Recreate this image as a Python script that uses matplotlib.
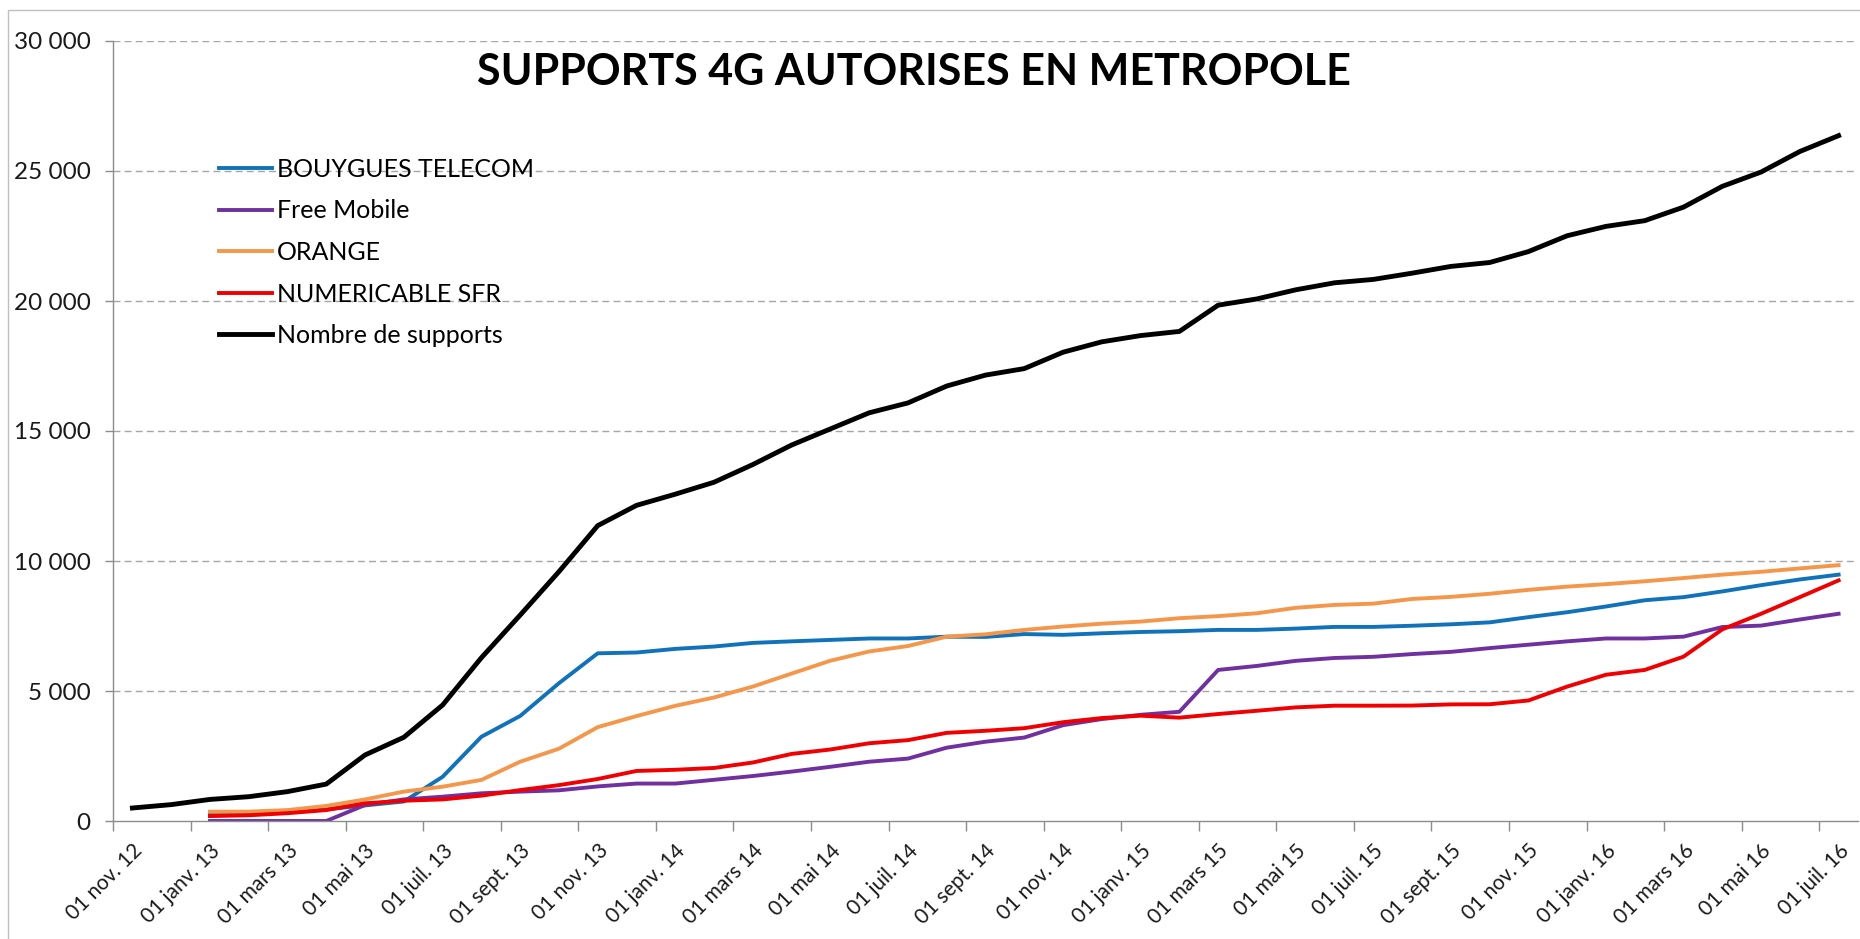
"""
Supports 4G autorises en metropole - monthly count per operator.
Output: out.png
"""

import matplotlib.pyplot as plt
import numpy as np
from matplotlib.patches import Rectangle
from matplotlib.ticker import FixedLocator, FuncFormatter

plt.rcParams["font.family"] = ["Lato", "DejaVu Sans"]

TITLE = "SUPPORTS 4G AUTORISES EN METROPOLE"

# one label every two months, from 01 nov. 12 to 01 juil. 16 (45 months)
TICK_LABELS = [
    "01 nov. 12", "01 janv. 13", "01 mars 13", "01 mai 13", "01 juil. 13",
    "01 sept. 13", "01 nov. 13", "01 janv. 14", "01 mars 14", "01 mai 14",
    "01 juil. 14", "01 sept. 14", "01 nov. 14", "01 janv. 15", "01 mars 15",
    "01 mai 15", "01 juil. 15", "01 sept. 15", "01 nov. 15", "01 janv. 16",
    "01 mars 16", "01 mai 16", "01 juil. 16",
]
N_MONTHS = 45

NAN = np.nan

BOUYGUES = [NAN, NAN, 250, 280, 350, 450, 600, 750, 1700, 3240, 4040, 5300,
            6450, 6480, 6620, 6710, 6850, 6910, 6965, 7020, 7020, 7090, 7080,
            7190, 7160, 7220, 7270, 7300, 7350, 7350, 7400, 7465, 7465, 7510,
            7565, 7640, 7840, 8030, 8250, 8490, 8610, 8830, 9070, 9290, 9475]

FREE = [NAN, NAN, 0, 0, 0, 0, 615, 830, 935, 1065, 1130, 1180,
        1330, 1440, 1440, 1585, 1730, 1900, 2085, 2280, 2400, 2820, 3050,
        3210, 3685, 3920, 4085, 4200, 5810, 5965, 6160, 6270, 6315, 6420,
        6505, 6650, 6780, 6910, 7020, 7020, 7090, 7460, 7515, 7750, 7970]

ORANGE = [NAN, NAN, 360, 360, 420, 580, 830, 1130, 1320, 1580, 2280, 2780,
          3610, 4035, 4430, 4750, 5170, 5670, 6165, 6520, 6730, 7090, 7180,
          7350, 7480, 7590, 7670, 7800, 7880, 7990, 8200, 8310, 8360, 8540,
          8620, 8740, 8890, 9015, 9110, 9220, 9345, 9475, 9585, 9715, 9840]

SFR = [NAN, NAN, 190, 220, 300, 420, 680, 780, 830, 975, 1190, 1380,
       1615, 1925, 1970, 2040, 2250, 2580, 2750, 2990, 3110, 3390, 3470,
       3570, 3800, 3960, 4050, 3975, 4115, 4240, 4370, 4435, 4435, 4440,
       4485, 4490, 4635, 5170, 5625, 5810, 6320, 7370, 7970, 8610, 9255]

TOTAL = [500, 630, 830, 935, 1130, 1420, 2540, 3220, 4460, 6280, 7920, 9590,
         11360, 12140, 12570, 13030, 13710, 14460, 15080, 15700, 16080, 16730,
         17150, 17400, 18030, 18430, 18670, 18830, 19840, 20080, 20430, 20700,
         20830, 21070, 21330, 21480, 21900, 22510, 22870, 23090, 23610, 24410,
         24960, 25750, 26360]

SERIES = [
    ("BOUYGUES TELECOM", BOUYGUES, "#0F72BA", 2.8),
    ("Free Mobile", FREE, "#7030A0", 2.8),
    ("ORANGE", ORANGE, "#F4974B", 2.8),
    ("NUMERICABLE SFR", SFR, "#F00000", 2.8),
    ("Nombre de supports", TOTAL, "#000000", 3.5),
]

W, H, DPI = 1860, 939, 100


def fmt_thousands(v, _pos):
    return f"{int(v):,}".replace(",", " ")


def main():
    fig = plt.figure(figsize=(W / DPI, H / DPI), dpi=DPI)
    ax = fig.add_axes([113 / W, 1 - 821 / H, (1858 - 113) / W, (821 - 41) / H])

    x = np.arange(N_MONTHS)
    for name, values, color, lw in SERIES:
        ax.plot(x, values, color=color, lw=lw, label=name, solid_joinstyle="round")

    ax.set_xlim(-0.5, N_MONTHS - 0.5)
    ax.set_ylim(0, 30000)

    # y axis
    ax.set_yticks(np.arange(0, 30001, 5000))
    ax.yaxis.set_major_formatter(FuncFormatter(fmt_thousands))
    ax.tick_params(axis="y", length=6, width=1, color="#8C8C8C", pad=10,
                   labelsize=17.5, labelcolor="#1A1A1A")
    for yv in range(5000, 30001, 5000):
        ax.axhline(yv, color="#A6A6A6", lw=1.0, ls=(0, (5, 3)), zorder=0)

    # x axis: labels on even months, tick marks between categories
    ax.set_xticks(np.arange(0, N_MONTHS, 2))
    ax.set_xticklabels(TICK_LABELS, rotation=45, ha="right", rotation_mode="anchor",
                       fontsize=15, color="#1A1A1A")
    ax.tick_params(axis="x", which="major", length=0, pad=14)
    ax.xaxis.set_minor_locator(FixedLocator(np.arange(-0.5, N_MONTHS - 1, 2)))
    ax.tick_params(axis="x", which="minor", length=7, width=1, color="#8C8C8C")

    for side in ("top", "right"):
        ax.spines[side].set_visible(False)
    for side in ("left", "bottom"):
        ax.spines[side].set_color("#8C8C8C")
        ax.spines[side].set_linewidth(1.0)

    fig.text(914 / W, 1 - 72 / H, TITLE, ha="center", va="center",
             fontsize=31, fontweight="bold", color="#000000")

    fig.legend(loc="upper left", bbox_to_anchor=(219 / W, 1 - 158 / H),
               bbox_transform=fig.transFigure, frameon=False, fontsize=18,
               handlelength=2.1, handletextpad=0.2, labelspacing=0.74,
               borderpad=0, borderaxespad=0)

    # chart area border
    fig.patches.append(Rectangle((8 / W, -0.05), 1.2, 1 - 10 / H + 0.05,
                                 transform=fig.transFigure, fill=False,
                                 edgecolor="#BFBFBF", lw=1.0))

    fig.savefig("out.png", dpi=DPI)
    plt.close(fig)


if __name__ == "__main__":
    main()
